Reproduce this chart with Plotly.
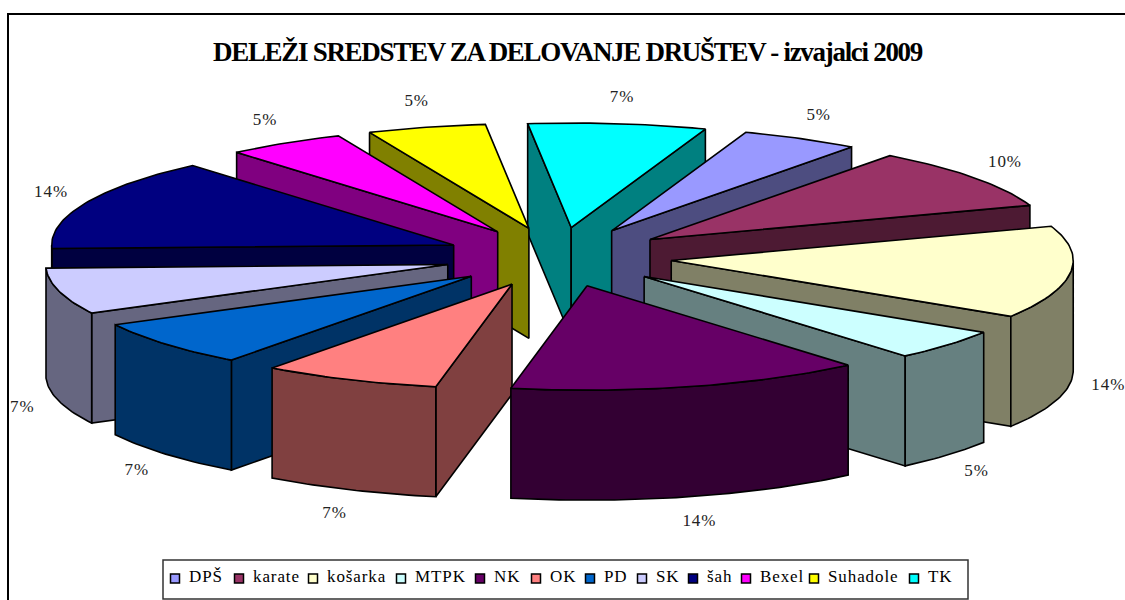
import numpy as np
import plotly.graph_objects as go

categories = ["DPŠ", "karate", "košarka", "MTPK", "NK", "OK", "PD", "SK", "šah", "Bexel", "Suhadole", "TK"]
# relative amounts read from the slice sweeps; labels round to 5, 10, 14, 5, 14, 7, ...
amounts = [2, 4, 6, 2, 6, 3, 3, 3, 6, 2, 2, 3]
top_colors = ["#9999FF", "#993366", "#FFFFCC", "#CCFFFF", "#660066", "#FF8080",
              "#0066CC", "#CCCCFF", "#000080", "#FF00FF", "#FFFF00", "#00FFFF"]
side_colors = ["#4D4D80", "#4D1A33", "#808066", "#668080", "#330033", "#804040",
               "#003366", "#666680", "#000040", "#800080", "#808000", "#008080"]
legend_text_widths = [36, 46, 60, 51, 28, 26, 24, 23, 25, 40, 72, 24]

TITLE = "DELEŽI SREDSTEV ZA DELOVANJE DRUŠTEV - izvajalci 2009"
FIRST_ANGLE = 19.5
CX, CY = 558.0, 257.0
R, K, PULL, DEPTH = 402.0, 0.26, 114.0, 110.0
LINE = 1.6
LEGEND_FIRST_X, LEGEND_Y, LEGEND_GAP = 175.0, 577.5, 14.0


def px(theta, r):
    t = np.radians(theta)
    return r * np.sin(t), -K * r * np.cos(t)


total = sum(amounts)
slices = []
cursor = FIRST_ANGLE
for i, v in enumerate(amounts):
    sweep = 360.0 * v / total
    a, b = cursor, cursor + sweep
    cursor = b
    mid = (a + b) / 2
    ox, oy = px(mid, PULL)
    slices.append(dict(i=i, a=a, b=b, mid=mid, tx=CX + ox, ty=CY + oy))

fig = go.Figure()


def poly(xs, ys, color):
    fig.add_trace(go.Scatter(
        x=list(xs), y=list(ys), mode="lines", fill="toself", fillcolor=color,
        line=dict(color="black", width=LINE), hoverinfo="skip", showlegend=False))


def rim(s, t0, t1):
    n = max(2, int(abs(t1 - t0)) + 2)
    th = np.linspace(t0, t1, n)
    dx, dy = px(th, R)
    return s["tx"] + dx, s["ty"] + dy


def radial_wall(s, theta, color):
    dx, dy = px(theta, R)
    x0, y0 = s["tx"], s["ty"]
    x1, y1 = x0 + dx, y0 + dy
    poly([x0, x1, x1, x0, x0], [y0, y1, y1 + DEPTH, y0 + DEPTH, y0], color)


# back to front
for s in sorted(slices, key=lambda q: -np.cos(np.radians(q["mid"]))):
    side = side_colors[s["i"]]
    a, b = s["a"], s["b"]
    if np.sin(np.radians(a)) < 0:
        radial_wall(s, a, side)
    if np.sin(np.radians(b)) > 0:
        radial_wall(s, b, side)
    lo, hi = max(a, 90.0), min(b, 270.0)
    if lo < hi:
        xs, ys = rim(s, lo, hi)
        poly(np.r_[xs, xs[::-1], xs[0]], np.r_[ys, ys[::-1] + DEPTH, ys[0]], side)
    xs, ys = rim(s, a, b)
    poly(np.r_[s["tx"], xs, s["tx"]], np.r_[s["ty"], ys, s["ty"]], top_colors[s["i"]])

# percentage labels just outside each rim
lx, ly, lt = [], [], []
for s, v in zip(slices, amounts):
    dx, dy = px(s["mid"], R)
    t = np.radians(s["mid"])
    lx.append(s["tx"] + dx + 38 * np.sin(t))
    ly.append(s["ty"] + dy + (DEPTH if np.cos(t) < 0 else 0) - 26 * np.cos(t))
    lt.append(f"{round(100 * v / total)}%")
fig.add_trace(go.Scatter(x=lx, y=ly, mode="text", text=lt, textposition="middle center",
                         textfont=dict(family="Liberation Serif", size=17, color="#222222"),
                         hoverinfo="skip", showlegend=False))

# legend row: swatches and names laid out from the text widths
mark_x, text_x = [], []
pos = LEGEND_FIRST_X
for w in legend_text_widths:
    mark_x.append(pos)
    text_x.append(pos + LEGEND_GAP)
    pos += LEGEND_GAP + w + LEGEND_GAP
fig.add_trace(go.Scatter(x=mark_x, y=[LEGEND_Y + 1] * len(mark_x), mode="markers", hoverinfo="skip",
                         showlegend=False,
                         marker=dict(symbol="square", size=9, color=top_colors,
                                     line=dict(color="black", width=1.5))))
fig.add_trace(go.Scatter(x=text_x, y=[LEGEND_Y] * len(text_x), mode="text", text=categories,
                         textposition="middle right", hoverinfo="skip", showlegend=False,
                         textfont=dict(family="Liberation Serif", size=17, color="black")))

fig.update_layout(
    width=1125, height=600, autosize=False,
    margin=dict(l=0, r=0, t=0, b=0),
    paper_bgcolor="white", plot_bgcolor="white",
    xaxis=dict(range=[0, 1125], visible=False, fixedrange=True),
    yaxis=dict(range=[600, 0], visible=False, fixedrange=True),
    showlegend=False,
    title=dict(text=f"<b>{TITLE}</b>", x=567.5 / 1125, xanchor="center", y=1 - 52 / 600, yanchor="middle",
               font=dict(family="Liberation Serif", size=27, color="black")),
    shapes=[dict(type="rect", xref="x", yref="y", x0=8, y0=14, x1=1135, y1=610,
                 line=dict(color="black", width=2), layer="below"),
            dict(type="rect", xref="x", yref="y", x0=163, y0=560, x1=968, y1=599,
                 line=dict(color="#333333", width=1.5), fillcolor="white", layer="below")],
)
post = """
document.body.style.margin = '0';
var st = document.createElement('style');
st.textContent = '.gtitle{letter-spacing:-1.3px} .textpoint text{letter-spacing:0.9px}';
document.head.appendChild(st);
"""
fig.write_html("out.html", config=dict(displayModeBar=False), post_script=post)
